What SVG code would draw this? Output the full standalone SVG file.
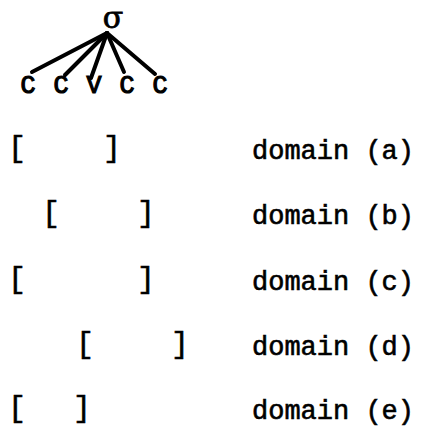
<svg xmlns="http://www.w3.org/2000/svg" width="421" height="429" viewBox="0 0 421 429">
<style>
.bg{fill:#fff}
.seg{font-family:"Liberation Mono","DejaVu Sans Mono",monospace;font-size:25px;fill:#000;stroke:#000;stroke-width:1.2;text-anchor:middle}
.root{font-family:"DejaVu Serif","Liberation Serif",serif;font-size:30px;fill:#000;stroke:#000;stroke-width:0.8;text-anchor:middle}
.br{font-family:"Liberation Mono","DejaVu Sans Mono",monospace;font-size:30px;fill:#000;stroke:#000;stroke-width:0.6;text-anchor:middle}
.dom{font-family:"Liberation Mono","DejaVu Sans Mono",monospace;font-size:27px;fill:#000;stroke:#000;stroke-width:0.6}
.edge{stroke:#000;stroke-width:4;stroke-linecap:round;fill:none}
</style>
<rect class="bg" x="0" y="0" width="421" height="429"/>
<g id="connectors">
<line class="edge" x1="107" y1="33" x2="32" y2="72"/>
<line class="edge" x1="107" y1="33" x2="65" y2="75"/>
<line class="edge" x1="107" y1="33" x2="91" y2="78"/>
<line class="edge" x1="107" y1="33" x2="124" y2="72"/>
<line class="edge" x1="107" y1="33" x2="155" y2="74"/>
</g>
<g id="root"><text class="root" x="113" y="28">σ</text></g>
<g id="seg1"><text class="seg" x="28" y="93">C</text></g>
<g id="seg2"><text class="seg" x="61" y="93">C</text></g>
<g id="seg3"><text class="seg" x="94" y="93">V</text></g>
<g id="seg4"><text class="seg" x="127" y="93">C</text></g>
<g id="seg5"><text class="seg" x="160" y="93">C</text></g>
<g id="row-a">
<text class="br" x="17" y="157">[</text><text class="br" x="112" y="157">]</text>
<text class="dom" x="252" y="159">domain (a)</text>
</g>
<g id="row-b">
<text class="br" x="51" y="222">[</text><text class="br" x="146" y="222">]</text>
<text class="dom" x="252" y="224">domain (b)</text>
</g>
<g id="row-c">
<text class="br" x="17" y="288">[</text><text class="br" x="146" y="288">]</text>
<text class="dom" x="252" y="290">domain (c)</text>
</g>
<g id="row-d">
<text class="br" x="85" y="353">[</text><text class="br" x="180" y="353">]</text>
<text class="dom" x="252" y="355">domain (d)</text>
</g>
<g id="row-e">
<text class="br" x="17" y="417">[</text><text class="br" x="82" y="417">]</text>
<text class="dom" x="252" y="419">domain (e)</text>
</g>
</svg>
